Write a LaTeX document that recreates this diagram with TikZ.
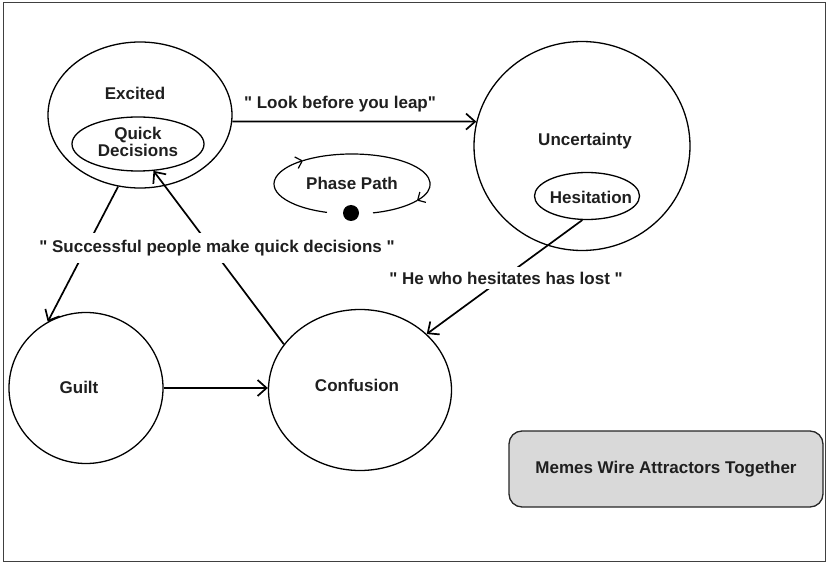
\documentclass[tikz,border=0pt]{standalone}
\usepackage{fontspec}
\setmainfont{Liberation Sans}[Ligatures=TeXOff]
\usetikzlibrary{shapes.geometric,arrows.meta}
\begin{document}
\begin{tikzpicture}[x=1pt,y=-1pt,
  state/.style={ellipse,draw,line width=1.3pt,inner sep=0pt},
  lbl/.style={font=\bfseries\fontsize{17}{17}\selectfont,inner sep=0pt,text=black!88},
  saying/.style={lbl,fill=white,inner xsep=2pt,inner ysep=7pt},
  link/.style={line width=1.7pt,-{Straight Barb[length=9pt,width=16pt,line width=1.7pt]}},
  orbit/.style={line width=1.2pt,-{Straight Barb[length=6pt,width=12pt,line width=1.2pt]}},
  ]
\useasboundingbox (0,0) rectangle (828,564);
\draw[line width=1pt,black!75] (3,3) rectangle (825,561);

% attractor basins
\node[state,minimum width=184pt,minimum height=146pt] (exc) at (140,115) {};
\node[state,minimum width=132pt,minimum height=54pt]  (qd)  at (138,144) {};
\node[state,minimum width=216pt,minimum height=209pt] (unc) at (582,146) {};
\node[state,minimum width=105pt,minimum height=47pt]  (hes) at (587,196) {};
\node[state,minimum width=154pt,minimum height=151pt] (gui) at (86,388) {};
\node[state,minimum width=183pt,minimum height=161pt] (con) at (360,390) {};

% state names
\node[lbl] (excT) at (135,93) {Excited};
\node[lbl,align=center] (qdT) at (138,142) {Quick\\Decisions};
\node[lbl] (uncT) at (585,141) {Uncertainty};
\node[lbl] (hesT) at (591,197) {Hesitation};
\node[lbl] (guiT) at (79,387) {Guilt};
\node[lbl] (conT) at (357,385) {Confusion};

% transitions
\draw[link] (exc.-4.4) -- (unc.167.4);
\node[lbl] (leap) at (340,104) {" Look before you leap"};
\draw[link] (exc.-107.5) -- (gui.120);
\draw[link] (con.149.7) -- (qd.-60);
\draw[link] (hes.-101.8) -- (con.40.4);
\draw[link] (gui.east) -- (con.west |- gui.east);
\node[saying] (success) at (217,248) {" Successful people make quick decisions "};
\node[saying,inner ysep=5pt] (lost) at (506,278) {" He who hesitates has lost "};

% phase path orbit
\node[lbl] (phaseT) at (352,183) {Phase Path};
\draw[orbit] (327.0,212.4) arc[start angle=108.7,end angle=231.1,x radius=78,y radius=30];
\draw[orbit] (303.0,160.65) arc[start angle=231.1,end angle=393.6,x radius=78,y radius=30];
\draw[line width=1.2pt] (417.0,200.6) arc[start angle=33.6,end angle=74.4,x radius=78,y radius=30];
\fill (351,213) circle[radius=8];

% caption box
\node[lbl,draw=black!85,line width=1.3pt,fill=gray!30,rounded corners=13pt,
      minimum width=314pt,minimum height=76pt] (memes) at (666,469)
      {Memes Wire Attractors Together};
\end{tikzpicture}
\end{document}
